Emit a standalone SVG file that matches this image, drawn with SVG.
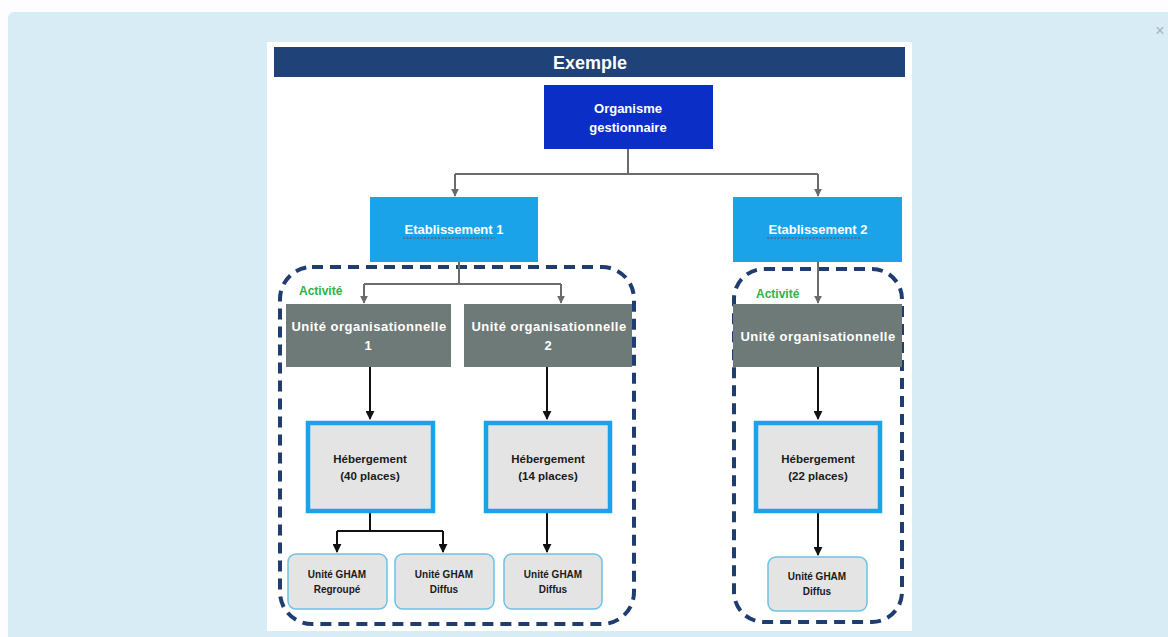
<svg xmlns="http://www.w3.org/2000/svg" width="1168" height="637" viewBox="0 0 1168 637">
  <defs>
    <marker id="ag" viewBox="0 0 10 10" refX="9" refY="5" markerWidth="8" markerHeight="8" markerUnits="userSpaceOnUse" orient="auto">
      <path d="M0,0 L10,5 L0,10 z" fill="#6b6b6b"/>
    </marker>
    <marker id="ab" viewBox="0 0 10 10" refX="9" refY="5" markerWidth="9" markerHeight="9" markerUnits="userSpaceOnUse" orient="auto">
      <path d="M0,0 L10,5 L0,10 z" fill="#111"/>
    </marker>
    <style>
      text { font-family: "Liberation Sans", Arial, sans-serif; font-weight: bold; text-anchor: middle; }
      .w { fill: #ffffff; font-size: 13px; }
      .uot { letter-spacing: 0.5px; }
      .b { fill: #1a1a1a; font-size: 11.5px; }
      .s { fill: #1a1a1a; font-size: 10px; }
      .act { fill: #2db34a; font-size: 12px; text-anchor: start; }
      .etab { fill: #1aa3e8; }
      .uo { fill: #6e7a78; }
      .heb { fill: #e4e4e4; stroke: #1aa3e8; stroke-width: 4.5; }
      .gham { fill: #e4e4e4; stroke: #6cc1e6; stroke-width: 1.5; }
      .zone { fill: none; stroke: #1f3d6e; stroke-width: 4; stroke-dasharray: 11 7; }
      .cg { fill: none; stroke: #6b6b6b; stroke-width: 2; }
      .cb { fill: none; stroke: #111; stroke-width: 2; }
      .sq { fill: none; stroke: #8a3b5c; stroke-width: 1; stroke-dasharray: 2 1.5; }
    </style>
  </defs>

  <rect x="0" y="0" width="1168" height="637" fill="#fdfcfe"/>
  <rect x="8" y="12" width="1170" height="640" rx="6" fill="#d8ecf5"/>
  <text x="1160" y="36" style="font-family:'Liberation Sans',sans-serif;font-weight:normal;font-size:16px;fill:#a8b4ba;text-anchor:middle">×</text>

  <rect x="267" y="42" width="645" height="589" fill="#ffffff"/>

  <g id="title">
    <rect x="274" y="47" width="631" height="30" fill="#1f4279"/>
    <text x="590" y="69" class="w" style="font-size:18px">Exemple</text>
  </g>

  <g id="zones">
    <rect x="280" y="267" width="354" height="357" rx="32" class="zone"/>
    <rect x="734" y="269" width="168" height="353" rx="30" class="zone"/>
  </g>

  <g id="connectors">
    <path d="M628,149 V174 M455,174 H818" class="cg"/>
    <path d="M455,174 V196" class="cg" marker-end="url(#ag)"/>
    <path d="M818,174 V196" class="cg" marker-end="url(#ag)"/>
    <path d="M459,262 V284 M364,284 H561" class="cg"/>
    <path d="M364,284 V303" class="cg" marker-end="url(#ag)"/>
    <path d="M561,284 V303" class="cg" marker-end="url(#ag)"/>
    <path d="M818,262 V303" class="cg" marker-end="url(#ag)"/>
    <path d="M370,367 V419" class="cb" marker-end="url(#ab)"/>
    <path d="M547,367 V419" class="cb" marker-end="url(#ab)"/>
    <path d="M818,367 V419" class="cb" marker-end="url(#ab)"/>
    <path d="M370,513 V531 M337,531 H443" class="cb"/>
    <path d="M337,531 V552" class="cb" marker-end="url(#ab)"/>
    <path d="M443,531 V552" class="cb" marker-end="url(#ab)"/>
    <path d="M547,513 V552" class="cb" marker-end="url(#ab)"/>
    <path d="M818,513 V555" class="cb" marker-end="url(#ab)"/>
  </g>

  <g id="organisme">
    <rect x="544" y="85" width="169" height="64" fill="#0b2fc6"/>
    <text x="628" y="113" class="w">Organisme</text>
    <text x="628" y="132" class="w">gestionnaire</text>
  </g>

  <g id="etab1">
    <rect x="370" y="197" width="168" height="65" class="etab"/>
    <text x="454" y="234" class="w">Etablissement 1</text>
    <path d="M403,238 H495" class="sq"/>
  </g>

  <g id="etab2">
    <rect x="733" y="197" width="169" height="65" class="etab"/>
    <text x="818" y="234" class="w">Etablissement 2</text>
    <path d="M767,238 H860" class="sq"/>
  </g>

  <g id="activite1"><text x="299" y="295" class="act">Activité</text></g>
  <g id="activite2"><text x="756" y="298" class="act">Activité</text></g>

  <g id="uo1">
    <rect x="286" y="304" width="165" height="63" class="uo"/>
    <text x="369" y="331" class="w uot">Unité organisationnelle</text>
    <text x="368" y="350" class="w">1</text>
  </g>
  <g id="uo2">
    <rect x="464" y="304" width="168" height="63" class="uo"/>
    <text x="549" y="331" class="w uot">Unité organisationnelle</text>
    <text x="548" y="350" class="w">2</text>
  </g>
  <g id="uo3">
    <rect x="733" y="304" width="169" height="63" class="uo"/>
    <text x="818" y="341" class="w uot">Unité organisationnelle</text>
  </g>

  <g id="heb1">
    <rect x="308" y="423" width="125" height="88" class="heb"/>
    <text x="370" y="463" class="b">Hébergement</text>
    <text x="370" y="480" class="b">(40 places)</text>
  </g>
  <g id="heb2">
    <rect x="486" y="423" width="124" height="88" class="heb"/>
    <text x="548" y="463" class="b">Hébergement</text>
    <text x="548" y="480" class="b">(14 places)</text>
  </g>
  <g id="heb3">
    <rect x="756" y="423" width="124" height="88" class="heb"/>
    <text x="818" y="463" class="b">Hébergement</text>
    <text x="818" y="480" class="b">(22 places)</text>
  </g>

  <g id="gham1">
    <rect x="288" y="554" width="99" height="55" rx="8" class="gham"/>
    <text x="337" y="578" class="s">Unité GHAM</text>
    <text x="337" y="593" class="s">Regroupé</text>
  </g>
  <g id="gham2">
    <rect x="395" y="554" width="99" height="55" rx="8" class="gham"/>
    <text x="444" y="578" class="s">Unité GHAM</text>
    <text x="444" y="593" class="s">Diffus</text>
  </g>
  <g id="gham3">
    <rect x="504" y="554" width="98" height="55" rx="8" class="gham"/>
    <text x="553" y="578" class="s">Unité GHAM</text>
    <text x="553" y="593" class="s">Diffus</text>
  </g>
  <g id="gham4">
    <rect x="768" y="557" width="99" height="54" rx="8" class="gham"/>
    <text x="817" y="580" class="s">Unité GHAM</text>
    <text x="817" y="595" class="s">Diffus</text>
  </g>
</svg>
